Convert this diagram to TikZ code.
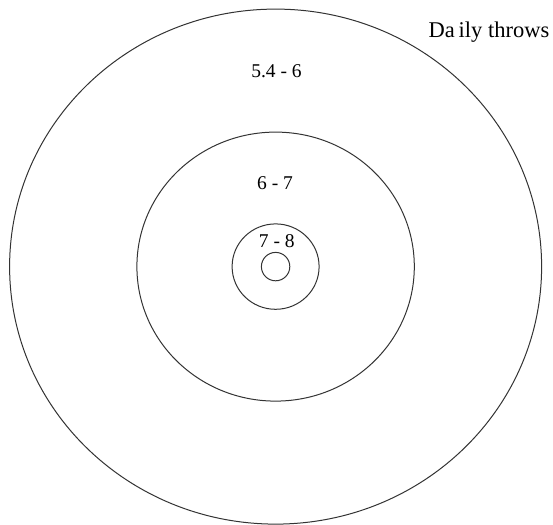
\documentclass[tikz,border=0pt]{standalone}
\usepackage{fontspec}
\setmainfont{Liberation Serif}
\begin{document}
\begin{tikzpicture}[x=1pt,y=-1pt,
  ring/.style={draw=black!80,line width=1pt},
  lab/.style={anchor=base,inner sep=0pt,font=\fontsize{19.5}{21}\selectfont}]
\useasboundingbox (0,0) rectangle (553,524);
\coordinate (c) at (275.6,266.6);
\draw[ring] (c) ellipse [x radius=266, y radius=257.5];
\draw[ring] (c) ellipse [x radius=138.7, y radius=134.5];
\draw[ring] (c) ellipse [x radius=43.5, y radius=42.7];
\draw[ring] (c) ellipse [x radius=14.2, y radius=14.2];
\node[lab] (l1) at (276.5,77.7) {5.4 - 6};
\node[lab] (l2) at (275,189) {6 - 7};
\node[lab] (l3) at (276.8,247.7) {7 - 8};
\node[lab,anchor=base east,font=\fontsize{22.5}{24}\selectfont] (t) at (549.5,37.3) {Da\,ily throws};
\end{tikzpicture}
\end{document}
